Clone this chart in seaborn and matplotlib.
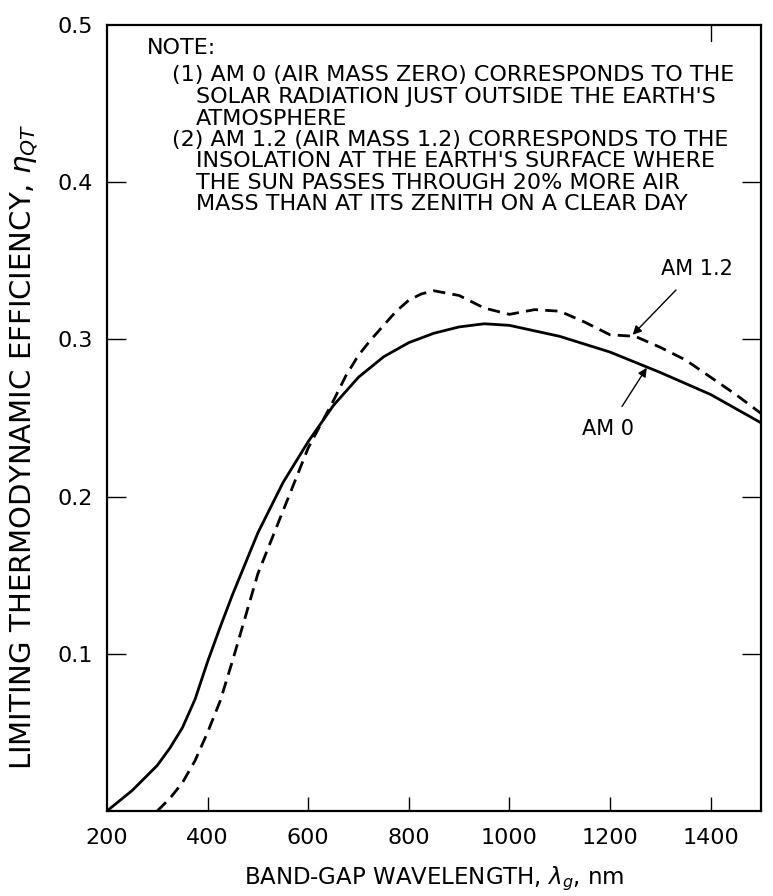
import matplotlib
matplotlib.use("Agg")
import matplotlib.pyplot as plt
import numpy as np
import pandas as pd
import seaborn as sns

# Limiting thermodynamic efficiency versus band-gap wavelength
am0_wavelength = [200, 250, 275, 300, 325, 350, 375, 400, 425, 450, 500, 550,
                  600, 650, 700, 750, 800, 850, 900, 950, 1000, 1100, 1200,
                  1300, 1400, 1500]
am0_efficiency = [0.0, 0.013, 0.021, 0.029, 0.040, 0.053, 0.071, 0.095, 0.117,
                  0.138, 0.177, 0.209, 0.235, 0.258, 0.276, 0.289, 0.298,
                  0.304, 0.308, 0.310, 0.309, 0.302, 0.292, 0.279, 0.265,
                  0.247]

am12_wavelength = [300, 325, 350, 375, 400, 425, 450, 500, 550, 600, 650, 675,
                   700, 725, 750, 775, 800, 825, 850, 900, 950, 1000, 1050,
                   1100, 1150, 1200, 1250, 1300, 1350, 1400, 1450, 1500]
am12_efficiency = [0.0, 0.008, 0.018, 0.032, 0.050, 0.070, 0.096, 0.151,
                   0.191, 0.231, 0.261, 0.277, 0.290, 0.300, 0.309, 0.318,
                   0.325, 0.329, 0.331, 0.328, 0.320, 0.316, 0.319, 0.318,
                   0.311, 0.303, 0.302, 0.295, 0.287, 0.276, 0.265, 0.253]

x_ticks = [200, 400, 600, 800, 1000, 1200, 1400]
y_ticks = [0.1, 0.2, 0.3, 0.4, 0.5]
y_tick_labels = ["0.1", "0.2", "0.3", "0.4", "0.5"]

# (text, indent level, vertical position in data units)
note_lines = [
    ("NOTE:", 0, 0.4854),
    ("(1) AM 0 (AIR MASS ZERO) CORRESPONDS TO THE", 1, 0.4680),
    ("SOLAR RADIATION JUST OUTSIDE THE EARTH'S", 2, 0.4543),
    ("ATMOSPHERE", 2, 0.4406),
    ("(2) AM 1.2 (AIR MASS 1.2) CORRESPONDS TO THE", 1, 0.4269),
    ("INSOLATION AT THE EARTH'S SURFACE WHERE", 2, 0.4133),
    ("THE SUN PASSES THROUGH 20% MORE AIR", 2, 0.3996),
    ("MASS THAN AT ITS ZENITH ON A CLEAR DAY", 2, 0.3860),
]

sns.set_style("white")
plt.rcParams["font.family"] = ["DejaVu Sans"]
plt.rcParams["text.color"] = "black"
plt.rcParams["axes.labelcolor"] = "black"
plt.rcParams["xtick.color"] = "black"
plt.rcParams["ytick.color"] = "black"

fig = plt.figure(figsize=(7.73, 8.96), dpi=100)
ax = fig.add_axes([0.1384, 0.0949, 0.846, 0.877])

am0 = pd.DataFrame({"wavelength": am0_wavelength, "efficiency": am0_efficiency})
am12 = pd.DataFrame({"wavelength": am12_wavelength, "efficiency": am12_efficiency})

sns.lineplot(data=am0, x="wavelength", y="efficiency", ax=ax, color="black",
             linewidth=2.0)
sns.lineplot(data=am12, x="wavelength", y="efficiency", ax=ax, color="black",
             linewidth=2.0)
ax.lines[-1].set_dashes((4.4, 2.6))
for ln in ax.lines:
    ln.set_solid_joinstyle("round")
    ln.set_dash_joinstyle("round")

ax.set_xlim(200, 1500)
ax.set_ylim(0, 0.5)

for side in ["left", "bottom", "right", "top"]:
    ax.spines[side].set_visible(True)
    ax.spines[side].set_color("black")
    ax.spines[side].set_linewidth(1.6)

ax.set_xticks(x_ticks)
ax.set_xticklabels([str(v) for v in x_ticks], fontsize=16)
ax.set_yticks(y_ticks)
ax.set_yticklabels(y_tick_labels, fontsize=16)
ax.tick_params(axis="x", direction="in", length=10, width=1.0, pad=12,
               top=False, bottom=True, colors="black")
ax.tick_params(axis="y", direction="in", length=14, width=1.0, pad=10,
               left=True, right=True, colors="black")
ax.get_xticklines()[0].set_visible(False)
for t in ax.yaxis.get_major_ticks():
    if abs(t.get_loc() - 0.5) < 1e-9:
        t.tick1line.set_visible(False)
        t.tick2line.set_visible(False)

# single tick on the top edge at 1400 nm
ax.plot([1400, 1400], [0.5, 0.49], color="black", linewidth=1.0,
        clip_on=False)

ax.set_xlabel(r"BAND-GAP WAVELENGTH, $\lambda_g$, nm", fontsize=16.5,
              labelpad=12)
ax.set_ylabel(r"LIMITING THERMODYNAMIC EFFICIENCY, $\eta_{QT}$", fontsize=21)
ax.yaxis.set_label_coords(-0.103, 0.463)

# explanatory note block
indent_x = {0: 279, 1: 330, 2: 377}
for line, level, ypos in note_lines:
    ax.text(indent_x[level], ypos, line, fontsize=16, ha="left",
            va="center", color="black")

# curve labels with leader arrows
ax.annotate("AM 1.2", xy=(1245, 0.303), xytext=(1372, 0.345),
            fontsize=15, ha="center", va="center", color="black",
            arrowprops=dict(arrowstyle="-|>", color="black", lw=1.0,
                            shrinkA=8, shrinkB=0, mutation_scale=13))
ax.annotate("AM 0", xy=(1273, 0.282), xytext=(1195, 0.243),
            fontsize=15, ha="center", va="center", color="black",
            arrowprops=dict(arrowstyle="-|>", color="black", lw=1.0,
                            shrinkA=8, shrinkB=0, mutation_scale=13))

fig.savefig("out.png", dpi=100)
